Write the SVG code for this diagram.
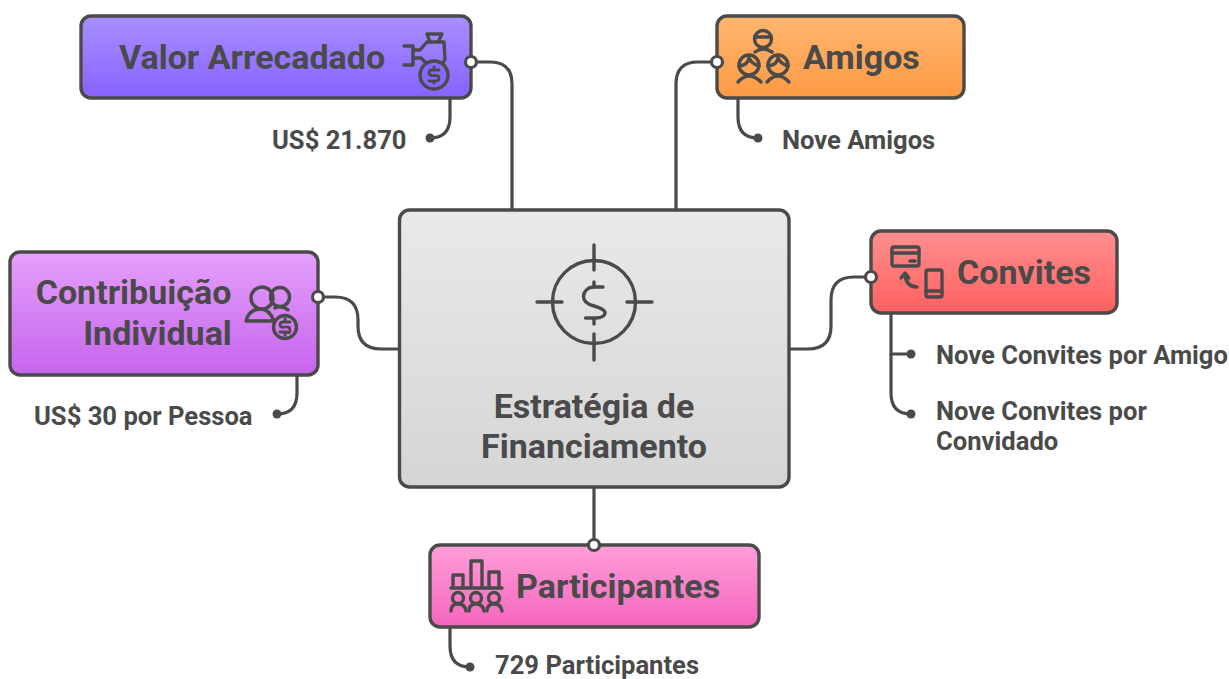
<svg xmlns="http://www.w3.org/2000/svg" width="1229" height="679" viewBox="0 0 1229 679">
<style>
.box{stroke:#4a4a4a;stroke-width:3.400}
.c{fill:none;stroke:#4a4a4a;stroke-width:3.200}
.i{fill:none;stroke:#4a4a4a;stroke-width:3.400;stroke-linecap:round;stroke-linejoin:round}
.dot{fill:#4a4a4a}
.port{fill:#fff;stroke:#4a4a4a;stroke-width:3.200}
text{font-family:Roboto,"Liberation Sans",sans-serif;font-weight:700;fill:#4a4a4a}
.t{font-size:34px}
.l{font-size:25.6px}
</style>
<defs>
<linearGradient id="gv" x1="0" y1="0" x2="0" y2="1"><stop offset="0" stop-color="#a98eff"/><stop offset="1" stop-color="#8663ff"/></linearGradient>
<linearGradient id="go" x1="0" y1="0" x2="0" y2="1"><stop offset="0" stop-color="#ffb56f"/><stop offset="1" stop-color="#fc9a45"/></linearGradient>
<linearGradient id="gp" x1="0" y1="0" x2="0" y2="1"><stop offset="0" stop-color="#e5a0fb"/><stop offset="1" stop-color="#c664ee"/></linearGradient>
<linearGradient id="gr" x1="0" y1="0" x2="0" y2="1"><stop offset="0" stop-color="#ff8f8f"/><stop offset="1" stop-color="#ff6060"/></linearGradient>
<linearGradient id="gk" x1="0" y1="0" x2="0" y2="1"><stop offset="0" stop-color="#ff9ed8"/><stop offset="1" stop-color="#f565bd"/></linearGradient>
<linearGradient id="gg" x1="0" y1="0" x2="0" y2="1"><stop offset="0" stop-color="#e9e9e9"/><stop offset="1" stop-color="#d5d5d5"/></linearGradient>
</defs>
<g id="connectors">
<path class="c" d="M471 62H490Q512 62 512 84V210"/>
<path class="c" d="M717 62H698Q676 62 676 84V210"/>
<path class="c" d="M318 297H335Q358 297 358 320V326Q358 349 381 349H400"/>
<path class="c" d="M871 277H854Q831 277 831 300V326Q831 349 808 349H789"/>
<path class="c" d="M594 487V545"/>
<path class="c" d="M450 98V117Q450 138 430 138"/>
<path class="c" d="M738 98V117Q738 138 758 138"/>
<path class="c" d="M297 375V393Q297 414 277 414"/>
<path class="c" d="M891 313V354H911"/>
<path class="c" d="M891 354V393Q891 414 911 414"/>
<path class="c" d="M450 627V646Q450 667 470 667"/>
<circle class="dot" cx="430" cy="138" r="4.500"/>
<circle class="dot" cx="758" cy="138" r="4.500"/>
<circle class="dot" cx="277" cy="414" r="4.500"/>
<circle class="dot" cx="911" cy="354" r="4.500"/>
<circle class="dot" cx="911" cy="414" r="4.500"/>
<circle class="dot" cx="470" cy="667" r="4.500"/>
</g>
<g id="center">
<rect class="box" x="399.500" y="210" width="389.500" height="277" rx="10" fill="url(#gg)"/>
<g class="i"><circle cx="594" cy="302" r="41.500"/><path d="M594 245V270M594 334V360M537 302H562M627 302H652"/><path d="M603 287H594C588 287 583.500 291.500 583.500 296.500C583.500 302 588 304.500 594 306C600 307.500 605 310.500 605 312.500C605 316 601 318 596 318H585.500M594 282V287M594 318V324"/></g>
<text class="t" x="594" y="418" text-anchor="middle">Estratégia de</text>
<text class="t" x="594" y="458" text-anchor="middle">Financiamento</text>
</g>
<g id="valor">
<rect class="box" x="81" y="16" width="390" height="82" rx="10" fill="url(#gv)"/>
<text class="t" x="119" y="69">Valor Arrecadado</text>
<g class="i"><path d="M404 46H413V65H404M413 50H420L427 42H444L445 59L443 63H426L421 58H413M427 34H442L438 42H430Z"/><circle cx="434" cy="75" r="14" fill="#8a68ff"/><path d="M439 70H432Q429 70 429 73T434 75.500T439 78T436 81H429M434 67V69M434 81V83" stroke-width="2.800"/></g>
<circle class="port" cx="471" cy="62" r="5.500"/>
</g>
<g id="amigos">
<rect class="box" x="717" y="16" width="247" height="82" rx="10" fill="url(#go)"/>
<text class="t" x="803" y="69">Amigos</text>
<g class="i"><circle cx="763" cy="39" r="8.500"/><path d="M755 37H771M755 52Q763 46 772 52"/><circle cx="749" cy="65" r="10"/><path d="M739 66Q748 65 749 58Q752 64 759 66M738 82Q749 70 761 82"/><circle cx="778" cy="65" r="10"/><path d="M768 66Q777 65 778 58Q781 64 788 66M767 82Q778 70 789 82"/></g>
<circle class="port" cx="717" cy="62" r="5.500"/>
</g>
<g id="contribuicao">
<rect class="box" x="10" y="252" width="308" height="123" rx="10" fill="url(#gp)"/>
<text class="t" x="133.500" y="304" text-anchor="middle">Contribuição</text>
<text class="t" x="157.500" y="345" text-anchor="middle">Individual</text>
<g class="i"><circle cx="262" cy="298" r="11"/><circle cx="280" cy="297" r="9.500"/><path d="M246 321Q249 309 261 309Q269 309 274 321ZM275 308Q282 305 288 310"/><circle cx="285" cy="327" r="11.500"/><path d="M290 322H283Q280 322 280 325T285 327T290 330T287 332H280M285 319V321M285 332V335" stroke-width="2.800"/></g>
<circle class="port" cx="318" cy="297" r="5.500"/>
</g>
<g id="convites">
<rect class="box" x="871" y="231" width="246" height="82" rx="10" fill="url(#gr)"/>
<text class="t" x="957" y="284">Convites</text>
<g class="i"><rect x="892" y="247" width="27" height="19" rx="2"/><path d="M892 253H919M910 261H915"/><path d="M901 278L905 273L909 278M905 274Q906 287 917 287"/><rect x="926" y="270" width="16" height="27" rx="2"/><path d="M926 291H942"/></g>
<circle class="port" cx="871" cy="277" r="5.500"/>
</g>
<g id="participantes">
<rect class="box" x="430" y="545" width="329" height="82" rx="10" fill="url(#gk)"/>
<text class="t" x="516" y="598">Participantes</text>
<g class="i"><path d="M451 588H502M453 587V575H463V587M471 587V561H482V587M489 587V572H499V587"/><circle cx="458" cy="598" r="5.500"/><path d="M451 611Q451 604 458 604Q465 604 466 611"/><circle cx="476" cy="598" r="5.500"/><path d="M469 611Q469 604 476 604Q483 604 484 611"/><circle cx="494" cy="598" r="5.500"/><path d="M487 611Q487 604 494 604Q501 604 502 611"/></g>
<circle class="port" cx="594" cy="545" r="5.500"/>
</g>
<g id="labels">
<text class="l" x="272" y="148.500">US$ 21.870</text>
<text class="l" x="782" y="148.500">Nove Amigos</text>
<text class="l" x="34" y="424.500">US$ 30 por Pessoa</text>
<text class="l" x="936" y="363.500">Nove Convites por Amigo</text>
<text class="l" x="936" y="419.500">Nove Convites por</text>
<text class="l" x="936" y="449.500">Convidado</text>
<text class="l" x="495" y="673.500">729 Participantes</text>
</g>
</svg>
